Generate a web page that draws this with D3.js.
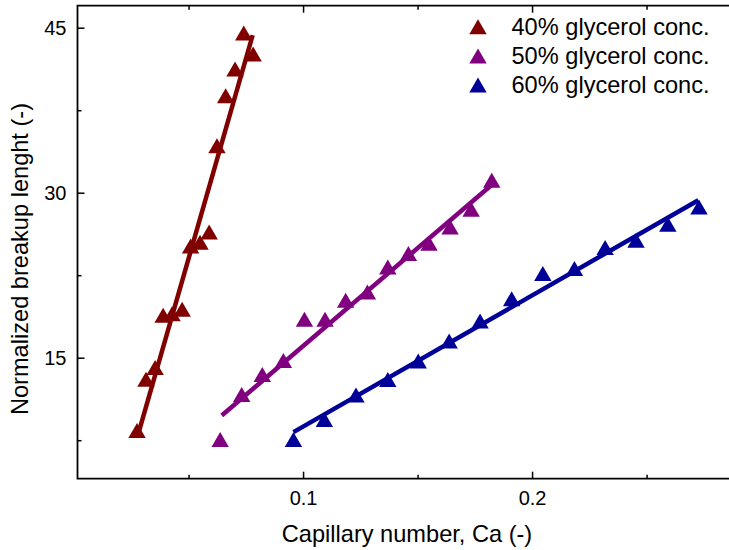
<!DOCTYPE html>
<html>
<head>
<meta charset="utf-8">
<script src="https://cdn.jsdelivr.net/npm/d3@7"></script>
<style>
  body { margin: 0; background: #fff; }
  svg { display: block; font-family: "Liberation Sans", Arial, sans-serif; }
</style>
</head>
<body>
<svg id="chart" width="729" height="550"></svg>
<script>
// values
const seriesNames = ["40% glycerol conc.", "50% glycerol conc.", "60% glycerol conc."];
const seriesColors = ["#800000", "#800080", "#000099"];

const ca40 = [0.0275, 0.0314, 0.0354, 0.0389, 0.0428, 0.0472, 0.0509, 0.0550, 0.0590, 0.0624, 0.0662, 0.0703, 0.0741, 0.0782];
const len40 = [8.38, 13.03, 14.12, 18.85, 19.0, 19.4, 25.16, 25.5, 26.43, 34.26, 38.81, 41.24, 44.52, 42.6];

const ca50 = [0.0638, 0.0732, 0.0822, 0.0914, 0.1006, 0.1096, 0.1186, 0.1281, 0.1370, 0.1460, 0.1550, 0.1642, 0.1734, 0.1824];
const len50 = [7.56, 11.66, 13.48, 14.75, 18.49, 18.49, 20.22, 20.97, 23.25, 24.47, 25.40, 26.89, 28.50, 31.14];

const ca60 = [0.0958, 0.1093, 0.1231, 0.1370, 0.1503, 0.1638, 0.1773, 0.1911, 0.2047, 0.2185, 0.2319, 0.2454, 0.2593, 0.2729];
const len60 = [7.56, 9.38, 11.60, 13.02, 14.69, 16.51, 18.33, 20.37, 22.65, 23.10, 25.01, 25.68, 27.13, 28.71];

// linear fit end points [x, y]
const fit40 = [[0.0281, 8.11], [0.0780, 44.33]];
const fit50 = [[0.0645, 9.75], [0.1827, 30.77]];
const fit60 = [[0.0958, 8.23], [0.2726, 29.32]];

const xMajor = [0.1, 0.2];
const xMinor = [0.05, 0.15, 0.25];
const yMajor = [15, 30, 45];
const yMinor = [7.5, 22.5, 37.5];

const series = [
  { ca: ca40, len: len40, fit: fit40 },
  { ca: ca50, len: len50, fit: fit50 },
  { ca: ca60, len: len60, fit: fit60 }
];

const svg = d3.select("#chart");
const plotLeft = 77.5, plotTop = 5.7, plotBottom = 478.7;

const x = d3.scaleLinear().domain([0.0015, 0.29]).range([plotLeft, plotLeft + (0.29 - 0.0015) * 2290]);
const y = d3.scaleLinear().domain([4, 47]).range([plotBottom, plotTop]);
const plotRight = x.range()[1];

const tri = "M0,-7.5L8.7,7.5L-8.7,7.5Z";

// axes: ticks point inward, top axis mirrors bottom
function styleAxis(g) {
  g.select(".domain").remove();
  g.selectAll("line").attr("stroke", "#000").attr("stroke-width", 1.5);
  g.selectAll("text").attr("fill", "#000").style("font-size", "20px");
}

svg.append("g")
  .attr("transform", `translate(0,${plotBottom})`)
  .call(d3.axisBottom(x).tickValues(xMajor).tickSize(-7).tickPadding(12).tickFormat(d3.format(".1f")))
  .call(styleAxis);
svg.append("g")
  .attr("transform", `translate(0,${plotBottom})`)
  .call(d3.axisBottom(x).tickValues(xMinor).tickSize(-4).tickFormat(""))
  .call(styleAxis);
svg.append("g")
  .attr("transform", `translate(0,${plotTop})`)
  .call(d3.axisTop(x).tickValues(xMajor).tickSize(-7).tickFormat(""))
  .call(styleAxis);
svg.append("g")
  .attr("transform", `translate(0,${plotTop})`)
  .call(d3.axisTop(x).tickValues(xMinor).tickSize(-4).tickFormat(""))
  .call(styleAxis);

svg.append("g")
  .attr("transform", `translate(${plotLeft},0)`)
  .call(d3.axisLeft(y).tickValues(yMajor).tickSize(-7).tickPadding(11))
  .call(styleAxis);
svg.append("g")
  .attr("transform", `translate(${plotLeft},0)`)
  .call(d3.axisLeft(y).tickValues(yMinor).tickSize(-4).tickFormat(""))
  .call(styleAxis);

// frame
svg.append("path")
  .attr("d", `M${plotRight},${plotTop}H${plotLeft}V${plotBottom}H${plotRight}`)
  .attr("fill", "none")
  .attr("stroke", "#000")
  .attr("stroke-width", 1.8);

// data
series.forEach((s, i) => {
  const pts = s.ca.map((c, j) => [c, s.len[j]]);
  svg.append("g").selectAll("path")
    .data(pts)
    .enter()
    .append("path")
    .attr("d", tri)
    .attr("transform", d => `translate(${x(d[0])},${y(d[1])})`)
    .attr("fill", seriesColors[i]);

  svg.append("path")
    .datum(s.fit)
    .attr("d", d3.line().x(d => x(d[0])).y(d => y(d[1])))
    .attr("fill", "none")
    .attr("stroke", seriesColors[i])
    .attr("stroke-width", 4.5);
});

// legend
const legend = svg.append("g");
seriesNames.forEach((name, i) => {
  const cy = 26.7 + i * 29.2;
  legend.append("path")
    .attr("d", tri)
    .attr("transform", `translate(478,${cy})`)
    .attr("fill", seriesColors[i]);
  legend.append("text")
    .attr("x", 511.5)
    .attr("y", cy + 8)
    .style("font-size", "23.6px")
    .text(name);
});

// axis titles
svg.append("text")
  .attr("x", 407)
  .attr("y", 542)
  .attr("text-anchor", "middle")
  .style("font-size", "23.6px")
  .text("Capillary number, Ca (-)");

svg.append("text")
  .attr("transform", "translate(28,259) rotate(-90)")
  .attr("text-anchor", "middle")
  .style("font-size", "23.6px")
  .text("Normalized breakup lenght (-)");
</script>
</body>
</html>
